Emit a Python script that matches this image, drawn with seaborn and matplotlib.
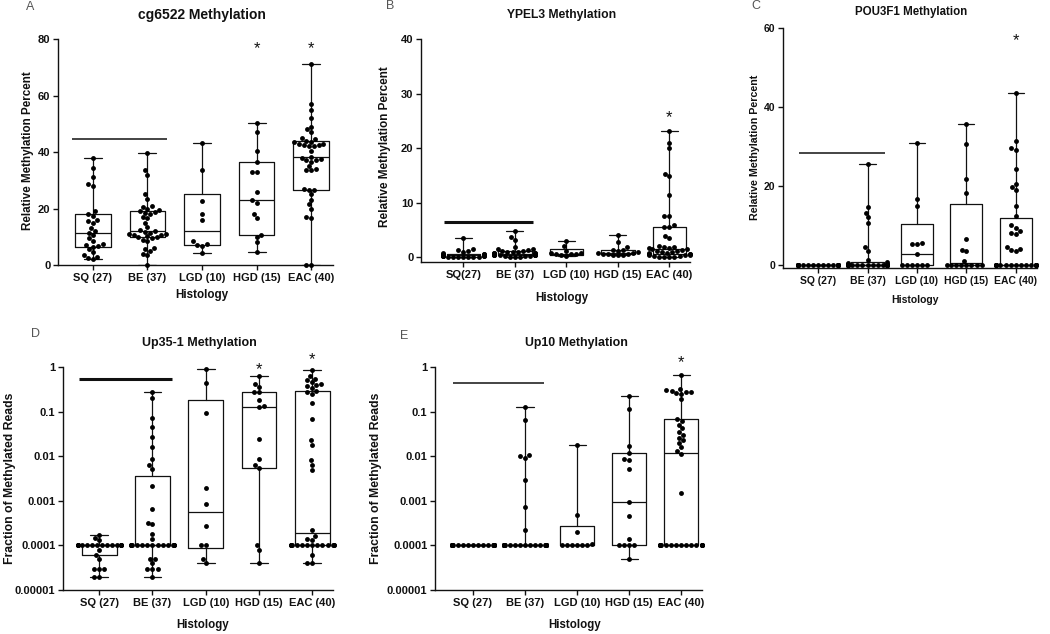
import numpy as np
import pandas as pd
import matplotlib
matplotlib.use("Agg")
import matplotlib.pyplot as plt
import seaborn as sns

sns.set_style("ticks")
plt.rcParams['font.family'] = ['Liberation Sans', 'DejaVu Sans']

groups = ["SQ", "BE", "LGD", "HGD", "EAC"]
tick_labels = ["SQ (27)", "BE (37)", "LGD (10)", "HGD (15)", "EAC (40)"]
tick_labels_b = ["SQ(27)", "BE (37)", "LGD (10)", "HGD (15)", "EAC (40)"]
log_ticks = [0.00001, 0.0001, 0.001, 0.01, 0.1, 1]
log_tick_labels = ["0.00001", "0.0001", "0.001", "0.01", "0.1", "1"]

# A - cg6522 (relative methylation %)
a_sq = [2.2, 2.5, 3.0, 3.5, 4.5, 5.5, 6.3, 6.7, 7.0, 7.5, 8.5, 9.5, 10.5, 11.4, 12.0, 13.0,
        15.0, 15.5, 16.0, 17.5, 18.2, 19.0, 27.8, 28.5, 31.0, 34.5, 38.0]
a_be = [0.0, 3.5, 4.0, 5.0, 5.5, 6.0, 8.5, 9.0, 9.5, 10.0, 10.0, 10.2, 10.5, 10.5, 11.0, 11.0,
        11.5, 11.8, 12.0, 12.5, 13.5, 15.0, 16.5, 17.0, 18.0, 18.5, 18.8, 19.0, 19.5, 20.0,
        20.5, 21.0, 23.5, 25.0, 32.0, 33.5, 39.5]
a_lgd = [4.4, 6.8, 7.2, 7.6, 8.4, 16.0, 18.0, 22.5, 33.7, 43.1]
a_hgd = [4.7, 8.0, 10.0, 10.5, 16.5, 18.0, 22.0, 23.0, 26.0, 33.0, 33.0, 36.5, 40.5, 47.0, 50.4]
a_eac = [71.0, 57.0, 55.0, 52.0, 49.0, 48.0, 47.0, 45.0, 44.5, 44.0, 43.5, 43.5, 43.0, 43.0,
         42.5, 42.5, 42.0, 42.0, 40.5, 38.4, 38.0, 37.6, 37.2, 37.0, 36.5, 35.0, 34.0, 33.5,
         33.5, 27.0, 26.5, 26.5, 25.0, 23.0, 21.5, 20.0, 17.0, 16.5, 0.0, 0.0]

# B - YPEL3
b_sq = [0.0, 0.1, 0.1, 0.1, 0.1, 0.1, 0.1, 0.2, 0.2, 0.2, 0.2, 0.2, 0.3, 0.3, 0.3, 0.3, 0.4,
        0.4, 0.5, 0.5, 0.6, 0.8, 1.0, 1.2, 1.3, 1.5, 3.5]
b_be = [4.8, 3.7, 3.2, 1.8, 1.5, 1.4, 1.3, 1.2, 1.1, 1.0, 0.9, 0.9, 0.8, 0.8, 0.7, 0.7, 0.6,
        0.6, 0.6, 0.5, 0.5, 0.5, 0.5, 0.4, 0.4, 0.4, 0.4, 0.3, 0.3, 0.3, 0.3, 0.2, 0.2, 0.2,
        0.1, 0.1, 0.1]
b_lgd = [0.2, 0.3, 0.5, 0.6, 0.6, 0.7, 0.8, 1.2, 2.0, 3.0]
b_hgd = [0.3, 0.35, 0.4, 0.5, 0.55, 0.6, 0.7, 0.8, 1.0, 1.2, 1.3, 1.35, 1.8, 2.7, 4.1]
b_eac = [23.2, 21.0, 20.0, 15.2, 14.8, 11.3, 7.6, 7.5, 5.8, 5.6, 5.5, 3.8, 3.5, 2.0, 1.9, 1.8,
         1.7, 1.6, 1.5, 1.45, 1.35, 1.2, 1.1, 1.0, 0.9, 0.8, 0.7, 0.6, 0.6, 0.5, 0.5, 0.4,
         0.3, 0.3, 0.2, 0.2, 0.1, 0.1, 0.0, 0.0]

# C - POU3F1
c_sq = [0, 0, 0, 0, 0, 0, 0, 0, 0, 0, 0, 0, 0, 0, 0, 0, 0, 0, 0, 0, 0, 0, 0, 0, 0, 0, 0]
c_be = [25.6, 14.6, 13.2, 12.0, 10.5, 4.4, 3.4, 1.3, 0.8, 0.5, 0.3, 0.2,
        0, 0, 0, 0, 0, 0, 0, 0, 0, 0, 0, 0, 0, 0, 0, 0, 0, 0, 0, 0, 0, 0, 0, 0, 0]
c_lgd = [30.8, 16.7, 15.0, 5.5, 5.3, 5.2, 2.7, 0, 0, 0, 0, 0, 0]
c_hgd = [35.7, 30.5, 21.8, 18.3, 6.5, 3.8, 3.4, 1.1, 0, 0, 0, 0, 0, 0, 0, 0]
c_eac = [43.5, 31.4, 29.6, 29.1, 24.3, 20.4, 19.8, 19.0, 14.8, 12.4, 10.0, 9.4, 8.6, 8.0, 7.8,
         4.5, 4.1, 3.8, 3.4,
         0, 0, 0, 0, 0, 0, 0, 0, 0, 0, 0, 0, 0, 0, 0, 0, 0, 0, 0, 0, 0]

# D - Up35-1 (fraction of methylated reads)
d_sq = [0.00002, 0.00002, 0.00003, 0.00003, 0.00003, 0.00005, 0.00006, 0.00008,
        0.0001, 0.0001, 0.0001, 0.0001, 0.0001, 0.0001, 0.0001, 0.0001,
        0.0001, 0.0001, 0.0001, 0.0001, 0.0001, 0.0001, 0.0001, 0.0001,
        0.00013, 0.00015, 0.00017]
d_be = [0.27, 0.2, 0.072, 0.046, 0.027, 0.0165, 0.0087, 0.0062, 0.0051, 0.0022, 0.00066,
        0.00032, 0.0003, 0.00018, 0.00014,
        0.0001, 0.0001, 0.0001, 0.0001, 0.0001, 0.0001, 0.0001, 0.0001, 0.0001, 0.0001,
        0.0001, 0.0001, 0.0001, 0.0001, 0.0001,
        0.00005, 0.00005, 0.00004, 0.00003, 0.00003, 0.00003, 0.00002]
d_lgd = [0.88, 0.44, 0.095, 0.0019, 0.00085, 0.00027, 0.0001, 0.0001, 0.00005, 0.00004]
d_hgd = [0.62, 0.42, 0.36, 0.28, 0.28, 0.18, 0.135, 0.127, 0.024, 0.0087, 0.0064, 0.0054,
         0.0001, 0.00008, 0.00004]
d_eac = [0.84, 0.62, 0.55, 0.50, 0.45, 0.42, 0.40, 0.37, 0.34, 0.29, 0.27, 0.25, 0.155,
         0.068, 0.023, 0.018, 0.0083, 0.0065, 0.005, 0.00022, 0.00016, 0.00014, 0.00013,
         0.0001, 0.0001, 0.0001, 0.0001, 0.0001, 0.0001, 0.0001, 0.0001, 0.0001, 0.0001,
         0.0001, 0.0001, 0.0001, 0.0001,
         0.00006, 0.00004, 0.00004]

# E - Up10
e_sq = [0.0001, 0.0001, 0.0001, 0.0001, 0.0001, 0.0001, 0.0001, 0.0001, 0.0001, 0.0001,
        0.0001, 0.0001, 0.0001, 0.0001, 0.0001, 0.0001, 0.0001, 0.0001, 0.0001, 0.0001,
        0.0001, 0.0001, 0.0001, 0.0001, 0.0001, 0.0001, 0.0001]
e_be = [0.124, 0.066, 0.0108, 0.0100, 0.0091, 0.0029, 0.00074, 0.00022,
        0.0001, 0.0001, 0.0001, 0.0001, 0.0001, 0.0001, 0.0001, 0.0001, 0.0001, 0.0001,
        0.0001, 0.0001, 0.0001, 0.0001, 0.0001, 0.0001, 0.0001, 0.0001, 0.0001, 0.0001,
        0.0001, 0.0001, 0.0001, 0.0001, 0.0001, 0.0001, 0.0001, 0.0001, 0.0001]
e_lgd = [0.018, 0.00048, 0.0002, 0.00011, 0.0001, 0.0001, 0.0001, 0.0001, 0.0001, 0.0001]
e_hgd = [0.22, 0.116, 0.017, 0.012, 0.0085, 0.0083, 0.0051, 0.00096, 0.00046, 0.000137,
         0.0001, 0.0001, 0.0001, 0.0001, 0.00005]
e_eac = [0.65, 0.32, 0.30, 0.29, 0.28, 0.27, 0.26, 0.25, 0.19, 0.07, 0.063, 0.051, 0.042,
         0.035, 0.030, 0.026, 0.023, 0.020, 0.016, 0.013, 0.011, 0.0015,
         0.0001, 0.0001, 0.0001, 0.0001, 0.0001, 0.0001, 0.0001, 0.0001, 0.0001, 0.0001,
         0.0001, 0.0001, 0.0001, 0.0001, 0.0001, 0.0001, 0.0001, 0.0001]

ink = "#111111"
W, H = 1050, 634
fig = plt.figure(figsize=(10.5, 6.34), dpi=100)


def px_axes(left, right, top, bottom):
    return fig.add_axes([left / W, 1 - bottom / H, (right - left) / W, (bottom - top) / H])


def ftext(x, y, s, size, **kw):
    fig.text(x / W, 1 - y / H, s, fontsize=size, ha="center", va="center", color=ink, **kw)


def panel(ax, data, log, xlim, ylim, yticks, yticklabels, xticklabels, bar_y, bar_lw,
          star_idx, star_y, tick_size=8):
    rows = []
    for g, vals in zip(groups, data):
        for v in vals:
            rows.append((g, v))
    df = pd.DataFrame(rows, columns=["Histology", "value"])
    if log:
        ax.set_yscale("log")
    # GraphPad style boxes: quartiles (n+1 method), whiskers min to max
    stats = []
    for vals in data:
        v = np.asarray(vals, dtype=float)
        q1, med, q3 = np.percentile(v, [25, 50, 75], method="weibull")
        stats.append(dict(med=med, q1=q1, q3=q3, whislo=v.min(), whishi=v.max(), fliers=[]))
    lp = dict(color=ink, linewidth=0.9)
    ax.bxp(stats, positions=range(5), widths=0.65, capwidths=0.33, showfliers=False,
           boxprops=lp, whiskerprops=lp, capprops=lp, medianprops=lp, manage_ticks=False)
    sns.swarmplot(data=df, x="Histology", y="value", order=groups, color="black", size=3.5,
                  ax=ax, zorder=3, warn_thresh=1)
    for c in ax.collections:
        c.set_clip_on(False)
    ax.plot([-0.38, 1.36], [bar_y, bar_y], color=ink, lw=bar_lw, solid_capstyle="butt")
    for i in star_idx:
        ax.text(i, star_y, "*", ha="center", va="center", fontsize=12, color=ink)
    ax.set_xlim(*xlim)
    ax.set_ylim(*ylim)
    ax.set_xticks(range(5))
    ax.set_xticklabels(xticklabels, fontsize=tick_size, fontweight="bold", color=ink)
    ax.set_yticks(yticks)
    ax.set_yticklabels(yticklabels, fontsize=tick_size, fontweight="bold", color=ink)
    ax.minorticks_off()
    ax.set_xlabel("")
    ax.set_ylabel("")
    ax.tick_params(length=3.5, width=1, color=ink, pad=2)
    sns.despine(ax=ax)
    for s in ["left", "bottom"]:
        ax.spines[s].set_color(ink)
        ax.spines[s].set_linewidth(1)
    ax.patch.set_alpha(0)


axA = px_axes(58, 333, 39, 265)
panel(axA, [a_sq, a_be, a_lgd, a_hgd, a_eac], False, (-0.64, 4.4), (0, 80),
      [0, 20, 40, 60, 80], ["0", "20", "40", "60", "80"], tick_labels, 44.6, 1.1, [3, 4], 76.5)
axB = px_axes(421, 690, 39, 262)
panel(axB, [b_sq, b_be, b_lgd, b_hgd, b_eac], False, (-0.82, 4.4), (-0.9, 40),
      [0, 10, 20, 30, 40], ["0", "10", "20", "30", "40"], tick_labels_b, 6.4, 2.2, [4], 25.6)
axC = px_axes(783, 1037, 28, 268)
panel(axC, [c_sq, c_be, c_lgd, c_hgd, c_eac], False, (-0.71, 4.43), (-0.8, 60),
      [0, 20, 40, 60], ["0", "20", "40", "60"], tick_labels, 28.3, 1.1, [4], 56.9, tick_size=7.5)
axD = px_axes(63, 333, 367, 590)
panel(axD, [d_sq, d_be, d_lgd, d_hgd, d_eac], True, (-0.68, 4.39), (0.00001, 1),
      log_ticks, log_tick_labels, tick_labels, 0.54, 2.2, [3, 4], 0.87)
axD.texts[-1].set_y(1.46)
axE = px_axes(435, 702, 367, 590)
panel(axE, [e_sq, e_be, e_lgd, e_hgd, e_eac], True, (-0.73, 4.40), (0.00001, 1),
      log_ticks, log_tick_labels, tick_labels, 0.43, 1.1, [4], 1.23)

# titles, panel letters and axis labels
ftext(202, 15, "cg6522 Methylation", 10, fontweight="bold")
ftext(562, 15, "YPEL3 Methylation", 8.7, fontweight="bold")
ftext(911, 12, "POU3F1 Methylation", 8.3, fontweight="bold")
ftext(199, 343, "Up35-1 Methylation", 9, fontweight="bold")
ftext(576, 343, "Up10 Methylation", 8.9, fontweight="bold")

for x, y, s in [(30, 7, "A"), (390, 6, "B"), (756, 6, "C"), (35, 334, "D"), (404, 336, "E")]:
    fig.text(x / W, 1 - y / H, s, fontsize=9, ha="center", va="center", color="#555555")

ftext(28, 151, "Relative Methylation Percent", 8.4, fontweight="bold", rotation=90)
ftext(385, 147, "Relative Methylation Percent", 8.5, fontweight="bold", rotation=90)
ftext(755, 147, "Relative Methylation Percent", 7.7, fontweight="bold", rotation=90)
ftext(10, 478, "Fraction of Methylated Reads", 8.8, fontweight="bold", rotation=90)
ftext(376, 478, "Fraction of Methylated Reads", 8.8, fontweight="bold", rotation=90)

ftext(202, 295, "Histology", 8.4, fontweight="bold")
ftext(562, 298, "Histology", 8.4, fontweight="bold")
ftext(915, 300, "Histology", 7.5, fontweight="bold")
ftext(203, 625, "Histology", 8.3, fontweight="bold")
ftext(575, 625, "Histology", 8.3, fontweight="bold")

fig.savefig("out.png", dpi=100, facecolor="white")
